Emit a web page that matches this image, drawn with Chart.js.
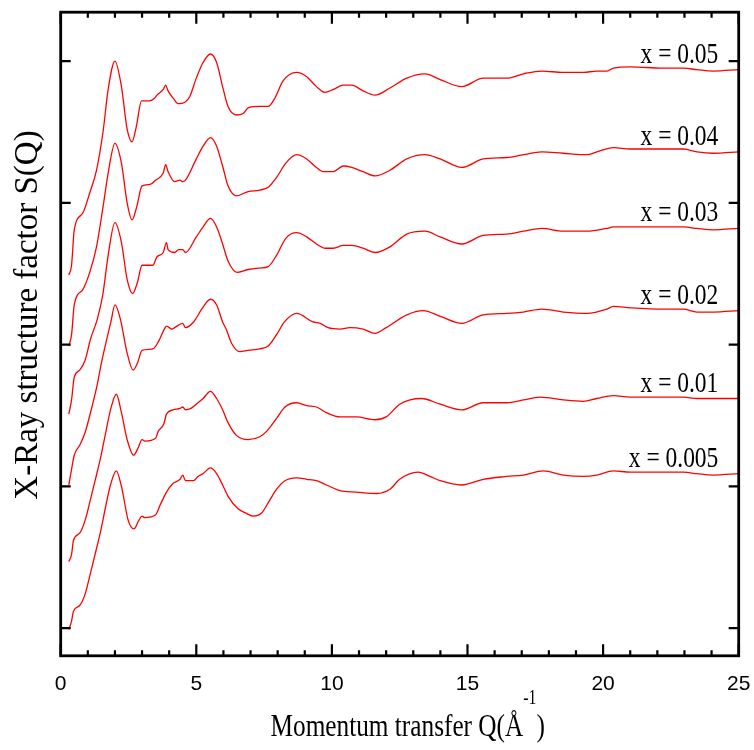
<!DOCTYPE html>
<html>
<head>
<meta charset="utf-8">
<title>X-Ray structure factor</title>
<script src="https://cdn.jsdelivr.net/npm/chart.js@4.4.1/dist/chart.umd.min.js"></script>
<style>
  html, body { margin: 0; padding: 0; background: #fff; }
  canvas { display: block; }
</style>
</head>
<body>
<canvas id="chart" width="754" height="750"></canvas>
<script>
// composition labels, top curve first
const compositions = ['x = 0.05', 'x = 0.04', 'x = 0.03', 'x = 0.02', 'x = 0.01', 'x = 0.005']

// Q values (1/A) and shifted S(Q)
const q005 = [0.3,0.4,0.5,0.82,1.07,1.32,1.56,1.75,2.0,2.24,2.45,2.63,2.79,2.98,3.28,3.47,3.55,3.78,3.87,3.96,4.14,4.33,4.58,4.76,5.0,5.25,5.52,5.75,5.97,6.17,6.48,6.73,6.91,7.34,7.65,7.9,8.2,8.7,9.07,9.43,9.74,10.05,10.42,10.73,11.15,11.59,12.14,12.76,13.43,13.99,14.79,15.58,16.45,17.06,17.74,18.53,19.27,19.77,20.14,20.38,21.0,22.2,22.96,23.46,24.07,25]
const s005 = [2.49,2.56,2.81,2.93,3.07,3.23,3.50,3.80,4.00,3.82,3.52,3.43,3.54,3.72,3.72,3.74,3.76,3.80,3.83,3.79,3.74,3.70,3.71,3.75,3.88,3.99,4.05,3.99,3.82,3.68,3.62,3.63,3.67,3.68,3.68,3.74,3.86,3.92,3.89,3.82,3.78,3.80,3.83,3.83,3.79,3.76,3.81,3.88,3.91,3.87,3.82,3.88,3.88,3.91,3.93,3.92,3.92,3.93,3.93,3.95,3.96,3.95,3.95,3.94,3.93,3.94]

const q004 = [0.3,0.4,0.5,0.82,1.07,1.32,1.56,1.75,2.0,2.24,2.45,2.63,2.8,3.0,3.3,3.5,3.78,3.87,3.96,4.2,4.4,4.5,4.6,5.0,5.25,5.52,5.75,5.97,6.17,6.48,6.91,7.34,7.65,7.96,8.3,8.7,9.07,9.43,9.7,10.05,10.42,10.73,11.15,11.59,12.14,12.76,13.43,13.99,14.79,15.58,16.45,17.06,17.74,18.53,19.4,19.77,20.38,21,22.2,22.96,23.46,24.07,25]
const s004 = [1.99,2.07,2.28,2.39,2.51,2.69,2.97,3.21,3.42,3.28,3.00,2.88,2.97,3.12,3.13,3.16,3.21,3.27,3.22,3.15,3.16,3.15,3.16,3.31,3.40,3.46,3.40,3.26,3.12,3.05,3.08,3.09,3.11,3.18,3.28,3.34,3.31,3.25,3.22,3.22,3.26,3.25,3.22,3.19,3.23,3.31,3.34,3.31,3.25,3.31,3.32,3.34,3.36,3.35,3.34,3.36,3.39,3.38,3.38,3.38,3.36,3.35,3.36]

const q003 = [0.3,0.4,0.5,0.7,0.9,1.1,1.35,1.55,1.75,2.0,2.24,2.45,2.65,2.83,3.0,3.4,3.55,3.78,3.9,3.96,4.2,4.35,4.5,4.6,5.0,5.25,5.52,5.75,5.97,6.17,6.5,6.91,7.34,7.65,7.96,8.3,8.7,9.07,9.43,9.74,10.05,10.42,10.73,11.15,11.59,12.14,12.76,13.43,13.99,14.79,15.58,16.45,17.06,17.74,18.53,19.4,20.14,20.38,21,22.2,22.96,23.46,24.07,25]
const s003 = [1.51,1.61,1.77,1.82,1.89,2.04,2.18,2.35,2.63,2.86,2.72,2.46,2.36,2.44,2.56,2.56,2.62,2.65,2.72,2.67,2.65,2.67,2.67,2.65,2.76,2.83,2.89,2.83,2.71,2.59,2.51,2.53,2.54,2.55,2.63,2.75,2.79,2.76,2.71,2.68,2.68,2.70,2.70,2.68,2.65,2.69,2.78,2.80,2.76,2.71,2.77,2.78,2.80,2.82,2.80,2.80,2.82,2.83,2.83,2.83,2.83,2.82,2.81,2.82]

const q002 = [0.3,0.4,0.5,0.7,0.9,1.15,1.35,1.5,1.7,1.85,2.0,2.2,2.45,2.67,2.83,3.0,3.4,3.6,3.85,3.9,4.1,4.2,4.5,4.6,4.9,5.2,5.52,5.75,5.97,6.1,6.3,6.6,6.91,7.34,7.65,7.96,8.25,8.7,9.3,9.57,9.86,10.3,10.66,11.15,11.59,12.0,12.76,13.37,13.99,14.79,15.58,16.45,17.06,17.74,18.53,19.4,20.14,20.38,21,22.2,22.96,23.46,24.07,25]
const s002 = [1.01,1.12,1.22,1.29,1.38,1.56,1.72,1.87,2.04,2.16,2.28,2.18,1.94,1.82,1.87,1.96,1.97,2.02,2.12,2.13,2.11,2.12,2.15,2.12,2.16,2.25,2.32,2.28,2.16,2.11,2.01,1.95,1.96,1.97,1.99,2.07,2.16,2.22,2.16,2.15,2.12,2.11,2.12,2.11,2.08,2.12,2.21,2.24,2.20,2.15,2.21,2.22,2.23,2.25,2.23,2.22,2.25,2.27,2.26,2.25,2.25,2.23,2.23,2.24]

const q001 = [0.3,0.4,0.47,0.7,0.9,1.1,1.28,1.48,1.66,1.85,2.05,2.24,2.45,2.69,2.85,3.0,3.1,3.5,3.6,3.8,3.9,4.14,4.4,4.5,4.6,4.8,5.0,5.25,5.52,5.75,5.97,6.17,6.48,6.91,7.34,7.6,7.96,8.27,8.7,9.07,9.43,9.8,10.3,10.9,11.59,12.0,12.5,12.88,13.3,13.99,14.79,15.58,16.45,17.06,17.68,18.53,19.27,19.77,20.38,21,22.2,22.96,23.46,24.07,25]
const s001 = [0.47,0.52,0.62,0.67,0.76,0.91,1.05,1.21,1.38,1.55,1.65,1.52,1.33,1.22,1.27,1.33,1.32,1.34,1.39,1.44,1.51,1.54,1.55,1.56,1.54,1.55,1.58,1.62,1.67,1.62,1.54,1.45,1.36,1.33,1.35,1.39,1.48,1.56,1.59,1.57,1.56,1.52,1.49,1.49,1.47,1.49,1.58,1.61,1.62,1.58,1.54,1.59,1.59,1.61,1.63,1.61,1.60,1.62,1.64,1.63,1.63,1.63,1.62,1.62,1.62]

const q0005 = [0.3,0.4,0.47,0.7,0.9,1.1,1.28,1.48,1.66,1.85,2.05,2.24,2.49,2.7,2.88,3.0,3.1,3.5,3.67,3.9,4.14,4.4,4.5,4.6,4.9,5.06,5.25,5.52,5.75,5.97,6.17,6.55,6.85,7.1,7.4,7.7,7.96,8.27,8.7,9.07,9.43,9.8,10.3,10.9,11.65,12.14,12.5,13.18,13.62,13.99,14.79,15.58,16.45,17.06,17.8,18.53,19.27,19.77,20.38,21,22.2,22.96,23.46,24.07,25]
const s0005 = [-0.01,0.05,0.12,0.16,0.24,0.39,0.53,0.69,0.86,1.02,1.11,1.00,0.76,0.70,0.76,0.79,0.78,0.80,0.87,0.96,1.02,1.05,1.08,1.04,1.04,1.07,1.09,1.13,1.09,1.01,0.93,0.84,0.81,0.79,0.81,0.90,0.98,1.04,1.06,1.05,1.04,1.01,0.97,0.96,0.95,0.98,1.05,1.10,1.07,1.04,1.01,1.05,1.07,1.08,1.11,1.08,1.07,1.08,1.11,1.10,1.10,1.10,1.09,1.08,1.09]

// axis ticks (y ticks have no labels in the original)
const xMajorTicks = [0, 5, 10, 15, 20, 25]
const xMinorTicks = [1,2,3,4,6,7,8,9,11,12,13,14,16,17,18,19,21,22,23,24]
const yTicks = [0, 1, 2, 3, 4]

const curves = [[q005, s005], [q004, s004], [q003, s003], [q002, s002], [q001, s001], [q0005, s0005]]

const serif = '"Liberation Serif", "Times New Roman", serif'

// frame, inward ticks, titles and curve labels
const decorations = {
    id: 'decorations',
    afterDraw(chart) {
        const {ctx, chartArea: a} = chart
        const xs = chart.scales.x
        const ys = chart.scales.y
        ctx.save()
        ctx.strokeStyle = '#000'
        ctx.fillStyle = '#000'

        ctx.lineWidth = 2.2
        ctx.beginPath()
        xMajorTicks.concat(xMinorTicks).forEach(q => {
            const px = xs.getPixelForValue(q)
            const len = xMajorTicks.includes(q) ? 11.5 : 5.5
            ctx.moveTo(px, a.bottom); ctx.lineTo(px, a.bottom - len)
            ctx.moveTo(px, a.top); ctx.lineTo(px, a.top + len)
        })
        yTicks.forEach(v => {
            const py = ys.getPixelForValue(v)
            ctx.moveTo(a.left, py); ctx.lineTo(a.left + 10, py)
            ctx.moveTo(a.right, py); ctx.lineTo(a.right - 10, py)
        })
        ctx.stroke()

        ctx.lineWidth = 2.8
        ctx.strokeRect(a.left, a.top, a.right - a.left, a.bottom - a.top)

        // labels at the right end of each curve
        ctx.font = '29px ' + serif
        ctx.textAlign = 'right'
        ctx.textBaseline = 'alphabetic'
        compositions.forEach((label, i) => {
            const vals = curves[i][1]
            const py = ys.getPixelForValue(vals[vals.length - 1]) - 7
            ctx.save()
            ctx.translate(xs.getPixelForValue(24.25), py)
            ctx.scale(0.81, 1)
            ctx.fillText(label, 0, 0)
            ctx.restore()
        })

        // x title with superscript
        const main = 'Momentum transfer Q(\u00C5'
        const sup = '-1'
        const close = ')'
        ctx.textAlign = 'left'
        ctx.font = '32px ' + serif
        const w1 = ctx.measureText(main).width
        const w3 = ctx.measureText(close).width
        ctx.font = '20px ' + serif
        const w2 = ctx.measureText(sup).width
        const total = w1 + w2 + w3
        ctx.save()
        ctx.translate((a.left + a.right) / 2 + 8, 736)
        ctx.scale(0.79, 1)
        let cx = -total / 2
        ctx.font = '32px ' + serif
        ctx.fillText(main, cx, 0)
        cx += w1
        ctx.font = '20px ' + serif
        ctx.fillText(sup, cx, -32)
        cx += w2
        ctx.font = '32px ' + serif
        ctx.fillText(close, cx, 0)
        ctx.restore()

        // y title
        ctx.save()
        ctx.translate(37, 315)
        ctx.rotate(-Math.PI / 2)
        ctx.textAlign = 'center'
        ctx.font = '33px ' + serif
        ctx.fillText('X-Ray structure factor S(Q)', 0, 0)
        ctx.restore()

        ctx.restore()
    }
}

const datasets = compositions.map((label, i) => ({
    label: label,
    data: curves[i][0].map((q, j) => ({x: q, y: curves[i][1][j]})),
    borderColor: '#ff0000',
    borderWidth: 1.3,
    pointRadius: 0,
    fill: false,
    cubicInterpolationMode: 'monotone'
}))

const graph = new Chart(document.getElementById('chart'), {
    type: 'line',
    data: {datasets},
    options: {
        responsive: false,
        animation: false,
        layout: {padding: {left: 60.7, right: 15.3, top: 12.2, bottom: 53.1}},
        plugins: {legend: {display: false}, tooltip: {enabled: false}},
        scales: {
            x: {
                type: 'linear', min: 0, max: 25,
                // hidden tick marks only push the labels down
                grid: {display: false, drawTicks: true, tickLength: 15.9},
                border: {display: false},
                ticks: {
                    stepSize: 5, padding: 0, maxRotation: 0, color: '#000',
                    font: {family: '"Liberation Sans", Arial, sans-serif', size: 21}
                }
            },
            y: {
                type: 'linear', min: -0.195, max: 4.345,
                grid: {display: false, drawTicks: false},
                border: {display: false},
                ticks: {display: false}
            }
        }
    },
    plugins: [decorations]
})
</script>
</body>
</html>
